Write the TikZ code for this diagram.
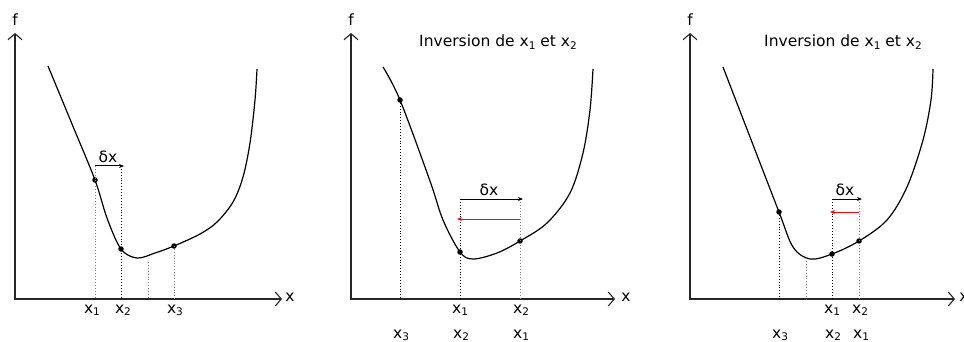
\documentclass[tikz,border=0pt]{standalone}
\usepackage{fontspec}
\setmainfont{DejaVu Sans}
\usetikzlibrary{arrows.meta}
\newcommand\sbs[1]{\raisebox{-0.35ex}{\fontsize{10.5}{12}\selectfont #1}}
\begin{document}
\begin{tikzpicture}[x=1pt,y=-1pt,
 every node/.style={font=\fontsize{15.5}{18}\selectfont, inner sep=0pt},
 axis/.style={draw=black!85, line width=1.3pt, {Straight Barb[length=6pt,width=14pt,line width=1.1pt]}-{Straight Barb[length=6pt,width=14pt,line width=1.1pt]}},
 curve/.style={line width=1.2pt},
 guide/.style={dotted, line width=0.9pt},
 lguide/.style={dotted, line width=0.9pt, draw=black!50},
 dot/.style={circle, fill, minimum size=5.5pt, inner sep=0pt},
 dxarrow/.style={line width=1pt, -{Stealth[length=5pt,width=4pt]}},
 redarrow/.style={draw=red, line width=1pt, -{Stealth[length=5pt,width=4pt]}},
 lab/.style={anchor=base},
]
\useasboundingbox (0,0) rectangle (964,342);

% ================= Panel 1 =================
\coordinate (o1) at (15,299);
\coordinate (yt1) at (15,33);
\coordinate (xe1) at (282,299);
\draw[axis] (yt1) -- (o1) -- (xe1);
\node[lab] (f1) at (15,26) {f};
\node[lab] (xl1) at (290,301) {x};

\draw[curve] plot[smooth, tension=0.55] coordinates {(48,66) (72,124) (95,180) (107,218) (121,249) (137,258) (155,253) (174,246) (200,234) (217,222) (233,202) (243,177) (250,143) (255,100) (257,69)};

\node[dot] (p1a) at (95,180) {};
\node[dot] (p1b) at (121,249) {};
\node[dot] (p1c) at (174,246) {};
\coordinate (t1a) at (95,166);
\coordinate (t1b) at (121,166);
\coordinate (e1b) at (124,166);
\coordinate (f1a) at (95,299);
\coordinate (f1b) at (121,299);
\coordinate (f1c) at (174,299);
\coordinate (m1t) at (148,262);
\coordinate (m1f) at (148,299);

\draw[lguide] (t1a) -- (f1a);
\draw[guide] (t1b) -- (f1b);
\draw[lguide] (p1c.center) -- (f1c);
\draw[lguide] (m1t) -- (m1f);
\draw[dxarrow] (t1a) -- (e1b);
\node[lab] (dx1) at (108,162.5) {δx};

\node[lab] (l1a) at (92,313) {x\sbs{1}};
\node[lab] (l1b) at (123,313) {x\sbs{2}};
\node[lab] (l1c) at (175,313) {x\sbs{3}};

% ================= Panel 2 =================
\coordinate (o2) at (351,299);
\coordinate (yt2) at (351,33);
\coordinate (xe2) at (615,299);
\draw[axis] (yt2) -- (o2) -- (xe2);
\node[lab] (f2) at (351,26) {f};
\node[lab] (xl2) at (626,301) {x};
\node[lab] (ti2) at (498,47) {Inversion de x\sbs{1} et x\sbs{2}};

\draw[curve] plot[smooth, tension=0.55] coordinates {(383,67) (400,100) (430,181) (443,220) (460,252) (473,259) (497,253) (520,241) (547,223) (570,193) (583,153) (590,110) (593,69)};

\node[dot] (p2c) at (400,100) {};
\node[dot] (p2a) at (460,252) {};
\node[dot] (p2b) at (520,241) {};
\coordinate (t2a) at (460,199);
\coordinate (t2b) at (520,199);
\coordinate (e2b) at (523,199);
\coordinate (r2s) at (520,219);
\coordinate (r2e) at (457,219);
\coordinate (f2a) at (460,299);
\coordinate (f2b) at (520,299);
\coordinate (f2c) at (400,299);

\draw[guide] (p2c.center) -- (f2c);
\draw[guide] (t2a) -- (f2a);
\draw[lguide] (t2b) -- (f2b);
\draw[dxarrow] (t2a) -- (e2b);
\draw[redarrow] (r2s) -- (r2e);
\node[lab] (dx2) at (489,196) {δx};

\node[lab] (l2a) at (460,313) {x\sbs{1}};
\node[lab] (l2b) at (521,313) {x\sbs{2}};
\node[lab] (l2c) at (401,338) {x\sbs{3}};
\node[lab] (l2d) at (461,338) {x\sbs{2}};
\node[lab] (l2e) at (521,338) {x\sbs{1}};

% ================= Panel 3 =================
\coordinate (o3) at (690,299);
\coordinate (yt3) at (690,33);
\coordinate (xe3) at (955,299);
\draw[axis] (yt3) -- (o3) -- (xe3);
\node[lab] (f3) at (690,26) {f};
\node[lab] (xl3) at (964,301) {x};
\node[lab] (ti3) at (843,47) {Inversion de x\sbs{1} et x\sbs{2}};

\draw[curve] plot[smooth, tension=0.55] coordinates {(723,67) (750,137) (779,212) (793,247) (810,259) (832,254) (859,241) (887,220) (907,187) (923,140) (931,100) (933,69)};

\node[dot] (p3c) at (779,212) {};
\node[dot] (p3a) at (832,254) {};
\node[dot] (p3b) at (859,241) {};
\coordinate (t3a) at (832,199);
\coordinate (t3b) at (859,199);
\coordinate (e3b) at (862,199);
\coordinate (r3s) at (859,212);
\coordinate (r3e) at (830,212);
\coordinate (f3a) at (832,299);
\coordinate (f3b) at (859,299);
\coordinate (f3c) at (779,299);
\coordinate (m3t) at (806,261);
\coordinate (m3f) at (806,299);

\draw[guide] (p3c.center) -- (f3c);
\draw[lguide] (m3t) -- (m3f);
\draw[guide] (t3a) -- (f3a);
\draw[lguide] (t3b) -- (f3b);
\draw[dxarrow] (t3a) -- (e3b);
\draw[redarrow] (r3s) -- (r3e);
\node[lab] (dx3) at (845,196) {δx};

\node[lab] (l3a) at (832,313) {x\sbs{1}};
\node[lab] (l3b) at (860,313) {x\sbs{2}};
\node[lab] (l3c) at (780,338) {x\sbs{3}};
\node[lab] (l3d) at (833,338) {x\sbs{2}};
\node[lab] (l3e) at (861,338) {x\sbs{1}};
\end{tikzpicture}
\end{document}
